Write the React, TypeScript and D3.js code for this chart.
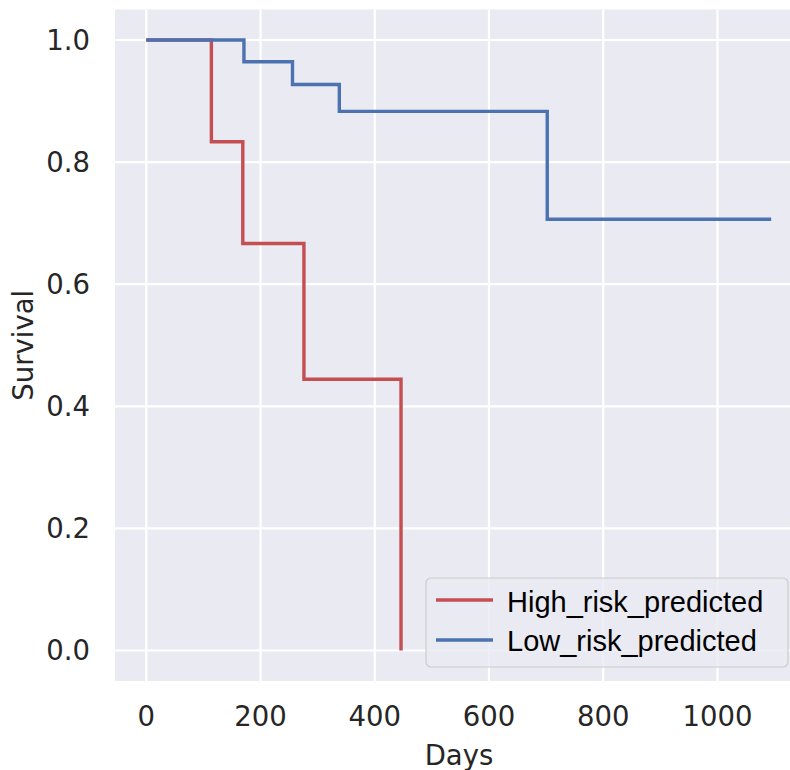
import React from "react";
import * as d3 from "d3";

const highDays = [0, 114, 169, 276, 446];
const highSurvival = [1.0, 0.8333, 0.6667, 0.4444, 0.0];
const lowDays = [0, 171, 256, 338, 702, 1094];
const lowSurvival = [1.0, 0.9643, 0.9272, 0.8831, 0.7065, 0.7065];
const xTicks = [0, 200, 400, 600, 800, 1000];
const yTicks = [0.0, 0.2, 0.4, 0.6, 0.8, 1.0];
const seriesNames = ["High_risk_predicted", "Low_risk_predicted"];
const seriesColors = ["#C44E52", "#4C72B0"];

const W = 790;
const H = 770;
const left = 115;
const right = 803;
const top = 9.5;
const bottom = 681;

export default function App() {
  const x = d3.scaleLinear().domain([-54.75, 1149.75]).range([left, right]);
  const y = d3.scaleLinear().domain([-0.05, 1.05]).range([bottom, top]);
  const line = d3
    .line<[number, number]>()
    .x((d) => x(d[0]))
    .y((d) => y(d[1]))
    .curve(d3.curveStepAfter);
  const highPts: [number, number][] = highDays.map((d, i) => [d, highSurvival[i]]);
  const lowPts: [number, number][] = lowDays.map((d, i) => [d, lowSurvival[i]]);
  const tickFont = "'DejaVu Sans', sans-serif";
  const textColor = "#262626";
  const fs = 27.5;
  const legX = 426;
  const legY = 578;
  const legW = 362;
  const legH = 89;
  return (
    <svg
      width={W}
      height={H}
      style={{ position: "absolute", left: 0, top: 0, background: "#ffffff" }}
    >
      <rect x={left} y={top} width={right - left} height={bottom - top} fill="#EAEAF2" />
      {xTicks.map((t) => (
        <line key={"gx" + t} x1={x(t)} x2={x(t)} y1={top} y2={bottom} stroke="#ffffff" strokeWidth={2.2} />
      ))}
      {yTicks.map((t) => (
        <line key={"gy" + t} x1={left} x2={right} y1={y(t)} y2={y(t)} stroke="#ffffff" strokeWidth={2.2} />
      ))}
      <path d={line(highPts) || ""} fill="none" stroke={seriesColors[0]} strokeWidth={3.4} strokeLinejoin="miter" />
      <path d={line(lowPts) || ""} fill="none" stroke={seriesColors[1]} strokeWidth={3.4} strokeLinejoin="miter" />
      {xTicks.map((t) => (
        <text
          key={"tx" + t}
          x={x(t)}
          y={726}
          textAnchor="middle"
          fontFamily={tickFont}
          fontSize={fs}
          fill={textColor}
        >
          {t}
        </text>
      ))}
      {yTicks.map((t) => (
        <text
          key={"ty" + t}
          x={90}
          y={y(t)}
          dy="0.36em"
          textAnchor="end"
          fontFamily={tickFont}
          fontSize={fs}
          fill={textColor}
        >
          {t.toFixed(1)}
        </text>
      ))}
      <text
        x={(left + right) / 2}
        y={765}
        textAnchor="middle"
        fontFamily={tickFont}
        fontSize={fs}
        fill={textColor}
      >
        Days
      </text>
      <text
        transform={`translate(33, ${(top + bottom) / 2}) rotate(-90)`}
        textAnchor="middle"
        fontFamily={tickFont}
        fontSize={fs}
        fill={textColor}
      >
        Survival
      </text>
      <rect
        x={legX}
        y={legY}
        width={legW}
        height={legH}
        rx={5}
        ry={5}
        fill="#EAEAF2"
        fillOpacity={0.8}
        stroke="#cccccc"
        strokeWidth={1.2}
      />
      {seriesNames.map((name, i) => (
        <g key={name}>
          <line
            x1={436}
            x2={493}
            y1={600 + i * 40}
            y2={600 + i * 40}
            stroke={seriesColors[i]}
            strokeWidth={3.4}
          />
          <text
            x={507}
            y={611.5 + i * 39}
            fontFamily="'Liberation Sans', Arial, sans-serif"
            fontSize={29}
            fill="#000000"
          >
            {name}
          </text>
        </g>
      ))}
    </svg>
  );
}
